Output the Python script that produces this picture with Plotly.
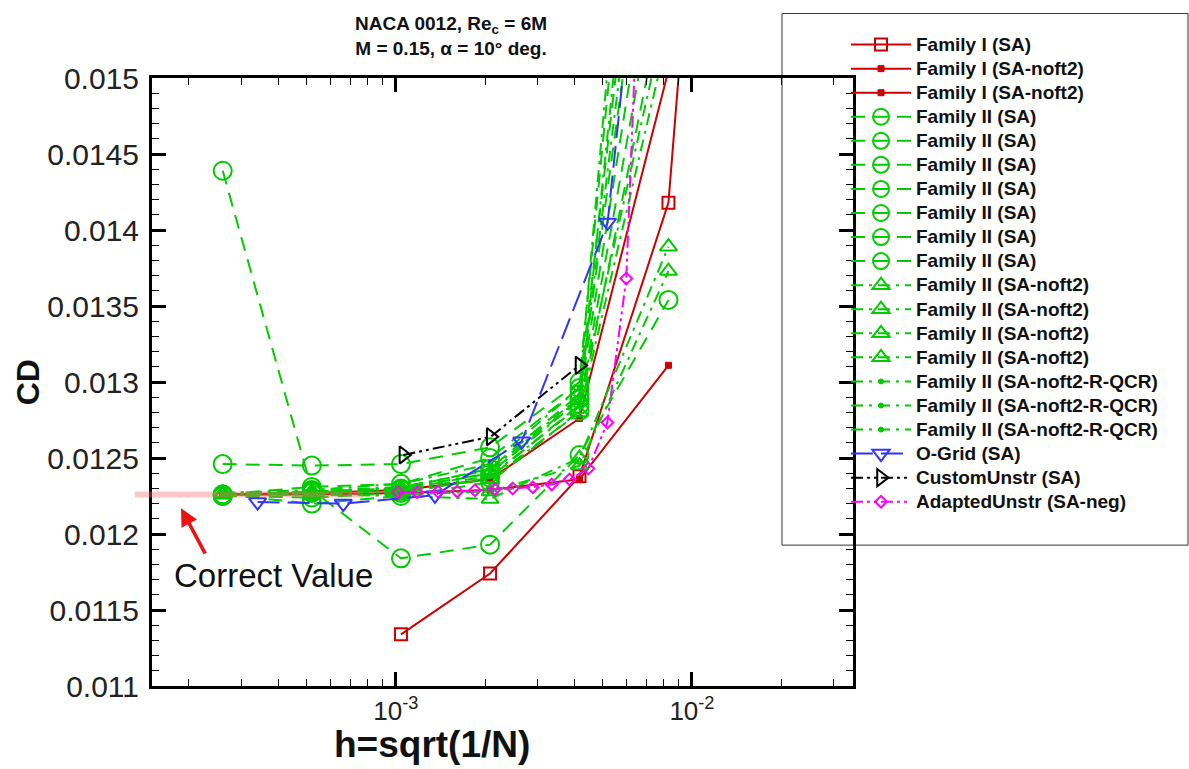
import plotly.graph_objects as go
import numpy as np

# ---------------- data ----------------
h_fam = [2.6e-4, 5.2e-4, 1.04e-3, 2.08e-3, 4.17e-3, 8.33e-3]
h_fam1_sa = [1.04e-3, 2.08e-3, 4.17e-3, 8.33e-3, 1.67e-2]
cd_fam1_sa = [0.01134, 0.01174, 0.01238, 0.01418, 0.0215]
cd_fam1_noft2_a = [0.01226, 0.01226, 0.01227, 0.01229, 0.01236, 0.01311]
cd_fam1_noft2_b = [0.01226, 0.01227, 0.01229, 0.01236, 0.01276, 0.01505]

cd_fam2_sa = [
    [0.01439, 0.01229, 0.01184, 0.01193, 0.01252, 0.01354],
    [0.01246, 0.01245, 0.01246, 0.01257, 0.01300, 0.0190],
    [0.01226, 0.01231, 0.01233, 0.01250, 0.01296, 0.0180],
    [0.01226, 0.01228, 0.01230, 0.01243, 0.01292, 0.0172],
    [0.01225, 0.01227, 0.01229, 0.01240, 0.01289, 0.0166],
    [0.01225, 0.01224, 0.01227, 0.01237, 0.01285, 0.0161],
    [0.01226, 0.01220, 0.01225, 0.01234, 0.01281, 0.0157],
]
cd_fam2_noft2 = [
    [0.01226, 0.01226, 0.01225, 0.01223, 0.01250, 0.01389],
    [0.01226, 0.01226, 0.01226, 0.01228, 0.01245, 0.01373],
    [0.01226, 0.01227, 0.01228, 0.01236, 0.01280, 0.0153],
    [0.01227, 0.01228, 0.01230, 0.01240, 0.01288, 0.0155],
]
cd_fam2_qcr = [
    [0.01226, 0.01227, 0.01229, 0.01238, 0.01284, 0.0185],
    [0.01226, 0.01228, 0.01231, 0.01242, 0.01290, 0.0176],
    [0.01227, 0.01229, 0.01233, 0.01246, 0.01296, 0.0196],
]
h_ogrid = [3.41e-4, 6.64e-4, 1.355e-3, 2.66e-3, 5.19e-3, 1.02e-2]
cd_ogrid = [0.01221, 0.01220, 0.012255, 0.01261, 0.01405, 0.0195]
h_custom = [1.06e-3, 2.09e-3, 4.17e-3]
cd_custom = [0.01252, 0.01264, 0.01311]
h_adapt = [1.018e-3, 1.18e-3, 1.388e-3, 1.61e-3, 1.85e-3, 2.16e-3, 2.48e-3,
           2.9e-3, 3.36e-3, 3.86e-3, 4.47e-3, 5.18e-3, 6.0e-3, 6.95e-3]
cd_adapt = [0.012275, 0.012275, 0.012278, 0.012280, 0.012288, 0.012295, 0.012300,
            0.012308, 0.012326, 0.012359, 0.012431, 0.012734, 0.013681, 0.0168]
correct_value = 0.01226

y_major = [0.011, 0.0115, 0.012, 0.0125, 0.013, 0.0135, 0.014, 0.0145, 0.015]
y_major_text = ["0.011", "0.0115", "0.012", "0.0125", "0.013", "0.0135", "0.014", "0.0145", "0.015"]
x_major = [1e-3, 1e-2]
x_major_text = ["10<sup>-3</sup>", "10<sup>-2</sup>"]

# ---------------- styles ----------------
RED = "#CC0000"
GREEN = "#00CC00"
BLUE = "#3333FF"
BLACK = "#000000"
MAG = "#FF00FF"
DASH = "14px,9px"
DASHDOT = "12px,6px,3px,6px"
DASHDOTDOT = "12px,4px,3px,4px,3px,4px"
LONGDASH = "22px,8px"

fig = go.Figure()
_count = [0]

def add(x, y, name, color, dash, symbol, size, lw=2, mlw=2):
    _count[0] += 1
    fig.add_trace(go.Scatter(
        x=x, y=y, name='<span style="font-size:19px"><b>' + name + '</b></span>',
        mode="lines+markers",
        legendgroup="g%d" % _count[0],
        line=dict(color=color, width=lw, dash=dash),
        marker=dict(symbol=symbol, size=size, color=color,
                    line=dict(color=color, width=mlw)),
    ))

add(h_fam1_sa, cd_fam1_sa, "Family I (SA)", RED, "solid", "square-open", 12)
add(h_fam, cd_fam1_noft2_a, "Family I (SA-noft2)", RED, "solid", "square", 6, mlw=1)
add(h_fam, cd_fam1_noft2_b, "Family I (SA-noft2)", RED, "solid", "square", 6, mlw=1)
for cd in cd_fam2_sa:
    add(h_fam, cd, "Family II (SA)", GREEN, DASH, "circle-open", 18)
for cd in cd_fam2_noft2:
    add(h_fam, cd, "Family II (SA-noft2)", GREEN, DASHDOT, "triangle-up-open", 15)
for cd in cd_fam2_qcr:
    add(h_fam, cd, "Family II (SA-noft2-R-QCR)", GREEN, DASHDOT, "circle", 5, mlw=1)
add(h_ogrid, cd_ogrid, "O-Grid (SA)", BLUE, LONGDASH, "triangle-down-open", 15)
add(h_custom, cd_custom, "CustomUnstr (SA)", BLACK, DASHDOTDOT, "triangle-right-open", 15)
add(h_adapt, cd_adapt, "AdaptedUnstr (SA-neg)", MAG, DASHDOTDOT, "diamond-open", 9)

# plot geometry (pixels)
W, H = 1189, 769
L, R, T, B = 152, 853, 77.5, 686
pw, ph = R - L, B - T

def px_x(px):
    return (px - L) / pw

def px_y(py):
    return (B - py) / ph

# Correct value reference line
fig.add_shape(type="line", xref="paper", yref="y",
              x0=px_x(135), x1=px_x(363), y0=correct_value, y1=correct_value,
              line=dict(color="rgba(255,110,110,0.38)", width=6), layer="above")

# Legend box
fig.add_shape(type="rect", xref="paper", yref="paper",
              x0=px_x(782), x1=px_x(1188), y0=px_y(13), y1=px_y(545),
              line=dict(color="#333", width=1), fillcolor="white", layer="below")

FONT = "Liberation Sans, Arial, sans-serif"

annotations = [
    dict(text="<b>NACA 0012, Re<sub>c</sub> = 6M<br>M = 0.15, α = 10° deg.</b>",
         xref="paper", yref="paper", x=px_x(451), y=px_y(35), showarrow=False,
         font=dict(family=FONT, size=19, color="#111"), xanchor="center", yanchor="middle"),
    dict(text="<b>CD</b>", xref="paper", yref="paper", x=px_x(28), y=px_y(382),
         showarrow=False, textangle=-90, font=dict(family=FONT, size=32, color="#111"),
         xanchor="center", yanchor="middle"),
    dict(text="<b>h=sqrt(1/N)</b>", xref="paper", yref="paper", x=px_x(432), y=px_y(745),
         showarrow=False, font=dict(family=FONT, size=37, color="#111"),
         xanchor="center", yanchor="middle"),
    dict(text="Correct Value", xref="paper", yref="paper", x=px_x(172), y=px_y(575),
         showarrow=False, font=dict(family=FONT, size=33, color="#111"),
         xanchor="left", yanchor="middle"),
    dict(text="", xref="paper", yref="paper", x=px_x(181), y=px_y(508),
         showarrow=True, ax=25, ay=47, arrowcolor="#EE1111", arrowwidth=3.5,
         arrowhead=2, arrowsize=1),
]

fig.update_layout(
    width=W, height=H,
    margin=dict(l=L, r=W - R, t=T, b=H - B),
    paper_bgcolor="white", plot_bgcolor="white",
    font=dict(family=FONT, color="#111"),
    annotations=annotations,
    showlegend=True,
    legend=dict(x=px_x(846), y=px_y(27), xanchor="left", yanchor="top",
                bgcolor="rgba(0,0,0,0)", borderwidth=0,
                font=dict(family=FONT, size=16.2, color="#111"),
                itemwidth=60, tracegroupgap=0, maxheight=700),
)

fig.update_xaxes(
    type="log", range=[np.log10(1.5e-4), np.log10(3.5e-2)],
    showline=True, linecolor="black", linewidth=3, mirror="allticks",
    ticks="inside", ticklen=14, tickwidth=2.5, tickcolor="black",
    tickmode="array", tickvals=x_major, ticktext=x_major_text,
    tickfont=dict(family=FONT, size=26, color="#222"),
    showgrid=False, zeroline=False,
    minor=dict(ticks="inside", ticklen=7, tickwidth=1, tickcolor="black",
               tickmode="array",
               tickvals=[m * 10.0 ** e for e in (-4, -3, -2) for m in range(2, 10)],
               showgrid=False),
)
fig.update_yaxes(
    range=[0.011, 0.015],
    showline=True, linecolor="black", linewidth=3, mirror="allticks",
    ticks="inside", ticklen=14, tickwidth=2.5, tickcolor="black",
    tickmode="array", tickvals=y_major, ticktext=y_major_text,
    tickfont=dict(family=FONT, size=30, color="#222"),
    ticklabelstandoff=4,
    showgrid=False, zeroline=False,
    minor=dict(ticks="inside", ticklen=7, tickwidth=1, tickcolor="black",
               dtick=0.0001, showgrid=False),
)

fig.write_html("out.html")
